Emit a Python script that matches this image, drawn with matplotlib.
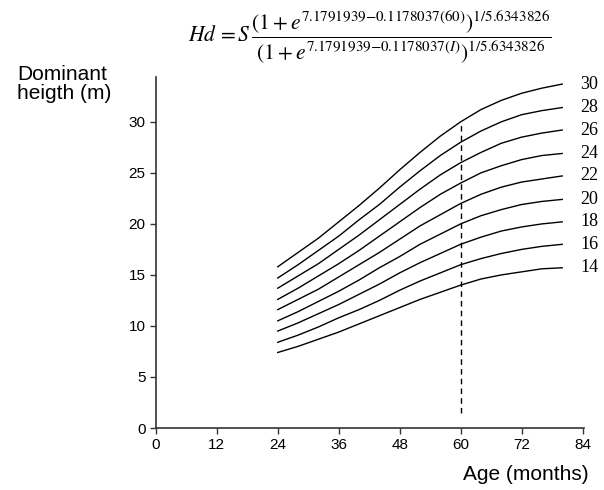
import matplotlib
matplotlib.use('Agg')
import matplotlib.pyplot as plt

# ages (months) and dominant height (m), one list per site index
ages = [24, 28, 32, 36, 40, 44, 48, 52, 56, 60, 64, 68, 72, 76, 80]
site_index = [14, 16, 18, 20, 22, 24, 26, 28, 30]
h14 = [7.4, 8.0, 8.7, 9.4, 10.2, 11.0, 11.8, 12.6, 13.3, 14.0, 14.6, 15.0, 15.3, 15.6, 15.7]
h16 = [8.4, 9.1, 9.9, 10.8, 11.6, 12.5, 13.5, 14.4, 15.2, 16.0, 16.6, 17.1, 17.5, 17.8, 18.0]
h18 = [9.5, 10.3, 11.2, 12.1, 13.1, 14.1, 15.2, 16.2, 17.1, 18.0, 18.7, 19.3, 19.7, 20.0, 20.2]
h20 = [10.5, 11.4, 12.4, 13.4, 14.5, 15.7, 16.8, 18.0, 19.0, 20.0, 20.8, 21.4, 21.9, 22.2, 22.4]
h22 = [11.6, 12.6, 13.6, 14.8, 16.0, 17.2, 18.5, 19.8, 20.9, 22.0, 22.9, 23.6, 24.1, 24.4, 24.7]
h24 = [12.6, 13.7, 14.9, 16.1, 17.4, 18.8, 20.2, 21.6, 22.9, 24.0, 25.0, 25.7, 26.3, 26.7, 26.9]
h26 = [13.7, 14.9, 16.1, 17.5, 18.9, 20.4, 21.9, 23.4, 24.8, 26.0, 27.0, 27.9, 28.5, 28.9, 29.2]
h28 = [14.7, 16.0, 17.4, 18.8, 20.4, 21.9, 23.6, 25.2, 26.7, 28.0, 29.1, 30.0, 30.7, 31.1, 31.4]
h30 = [15.8, 17.2, 18.6, 20.2, 21.8, 23.5, 25.3, 27.0, 28.6, 30.0, 31.2, 32.1, 32.8, 33.3, 33.7]
heights = [h14, h16, h18, h20, h22, h24, h26, h28, h30]

x_ticks = [0, 12, 24, 36, 48, 60, 72, 84]
y_ticks = [0, 5, 10, 15, 20, 25, 30]
ref_age = 60

plt.rcParams['font.family'] = ['Liberation Sans', 'DejaVu Sans']
plt.rcParams['mathtext.fontset'] = 'stix'

fig = plt.figure(figsize=(6.04, 4.9), dpi=100)
ax = fig.add_axes([0.258, 0.1265, 0.709, 0.7165])

for s, h in zip(site_index, heights):
    ax.plot(ages, h, color='black', lw=1.0)
    ax.text(ages[-1] + 3.6, h[-1], str(s), ha='left', va='center',
            fontsize=13, family='Liberation Serif')

# reference age line
ax.plot([ref_age, ref_age], [1.5, h30[ages.index(ref_age)]], color='black',
        lw=1.0, ls=(0, (4, 3)))

ax.set_xlim(0, 84.3)
ax.set_ylim(0, 34.4)
ax.set_xticks(x_ticks)
ax.set_yticks(y_ticks)
ax.tick_params(direction='out', length=4, width=1, labelsize=11, colors='#333333',
               labelcolor='black')
for side in ['top', 'right']:
    ax.spines[side].set_visible(False)
for side in ['left', 'bottom']:
    ax.spines[side].set_color('#333333')
    ax.spines[side].set_linewidth(1.2)

fig.text(0.028, 0.79, 'Dominant\nheigth (m)', fontsize=15, ha='left', va='bottom',
         linespacing=1.0)
fig.text(0.975, 0.012, 'Age (months)', fontsize=15, ha='right', va='bottom')

formula = (r'$Hd\,=S\,\dfrac{\left(1+e^{7.1791939\mathrm{-}0.1178037(60)}\right)^{1/5.6343826}}'
           r'{\left(1+e^{7.1791939\mathrm{-}0.1178037(I)}\right)^{1/5.6343826}}$')
fig.text(0.612, 0.925, formula, fontsize=15.5, ha='center', va='center')

fig.savefig('out.png', dpi=100)
